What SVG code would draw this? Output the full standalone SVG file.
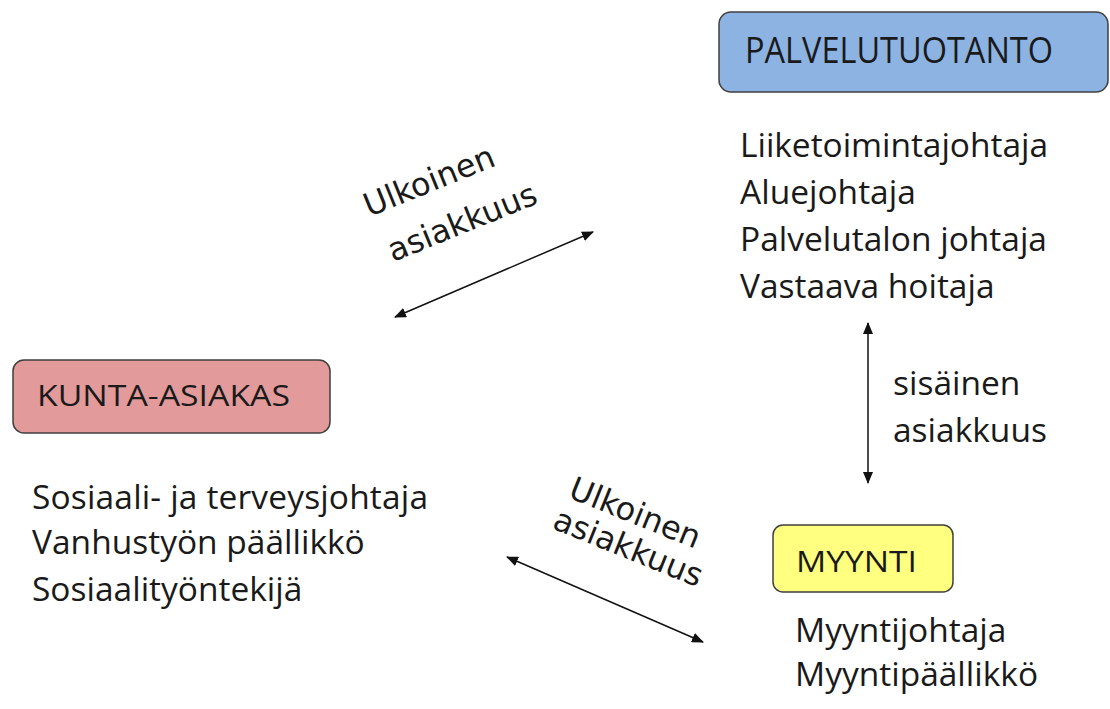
<svg xmlns="http://www.w3.org/2000/svg" width="1110" height="709" viewBox="0 0 1110 709">
<defs>
<style>
.box{stroke:#3f3f3f;stroke-width:1.5}
.t{font-family:"Open Sans",Lato,sans-serif;fill:#1a1a1a}
.l{font-size:33.5px}
.r{font-family:"DejaVu Sans",Verdana,sans-serif;font-size:32px;fill:#1a1a1a}
.c{stroke:#111;stroke-width:1.5;fill:none;marker-start:url(#ah);marker-end:url(#ah)}
</style>
<marker id="ah" viewBox="0 0 12 10" refX="11" refY="5" markerWidth="12" markerHeight="10" markerUnits="userSpaceOnUse" orient="auto-start-reverse">
<path d="M0,0 L12,5 L0,10 Z" fill="#111"/>
</marker>
</defs>
<rect width="1110" height="709" fill="#fff"/>
<g id="palvelutuotanto">
<rect class="box" x="719" y="12" width="389" height="80" rx="12" fill="#8db3e2"/>
<text class="t" x="745" y="63" font-size="37" textLength="308" lengthAdjust="spacingAndGlyphs">PALVELUTUOTANTO</text>
<text class="t l" x="740" y="157" textLength="308">Liiketoimintajohtaja</text>
<text class="t l" x="740" y="204">Aluejohtaja</text>
<text class="t l" x="740" y="251">Palvelutalon johtaja</text>
<text class="t l" x="740" y="298">Vastaava hoitaja</text>
</g>
<g id="kunta-asiakas">
<rect class="box" x="13" y="360" width="317" height="73" rx="11" fill="#e39a9a"/>
<text class="t" x="37" y="406" font-size="30" textLength="253" lengthAdjust="spacingAndGlyphs">KUNTA-ASIAKAS</text>
<text class="t l" x="32" y="509" textLength="396">Sosiaali- ja terveysjohtaja</text>
<text class="t l" x="32" y="554">Vanhustyön päällikkö</text>
<text class="t l" x="32" y="601">Sosiaalityöntekijä</text>
</g>
<g id="myynti">
<rect class="box" x="773" y="525" width="180" height="67" rx="10" fill="#ffff80"/>
<text class="t" x="796" y="572" font-size="30" textLength="121" lengthAdjust="spacingAndGlyphs">MYYNTI</text>
<text class="t l" x="795" y="642">Myyntijohtaja</text>
<text class="t l" x="795" y="686">Myyntipäällikkö</text>
</g>
<g id="connectors">
<line class="c" x1="395" y1="317" x2="593" y2="232"/>
<line class="c" x1="868" y1="323" x2="868" y2="483"/>
<line class="c" x1="507" y1="557" x2="703" y2="642"/>
</g>
<g id="labels">
<text class="r" transform="translate(369,217) rotate(-22)">Ulkoinen</text>
<text class="r" transform="translate(393,262) rotate(-22)">asiakkuus</text>
<text class="t l" x="893" y="395">sisäinen</text>
<text class="t l" x="893" y="442">asiakkuus</text>
<text class="r" transform="translate(567,497) rotate(22)">Ulkoinen</text>
<text class="r" transform="translate(551,528) rotate(22)">asiakkuus</text>
</g>
</svg>
